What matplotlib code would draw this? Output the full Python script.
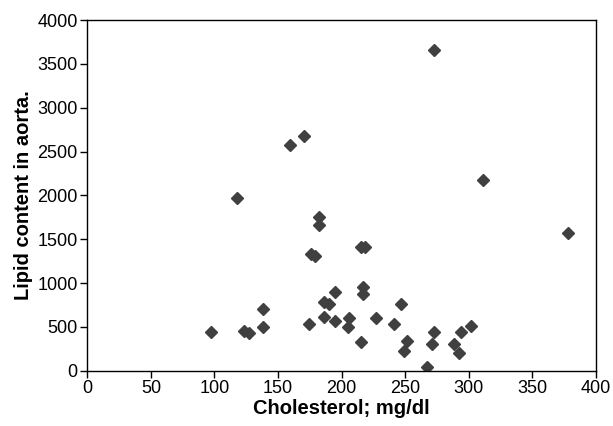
import matplotlib
matplotlib.use("Agg")
import matplotlib.pyplot as plt

# cholesterol (mg/dl) vs lipid content in aorta
cholesterol = [118, 159, 170, 273, 311, 97, 123, 127, 138, 138, 174, 176, 179,
               182, 182, 186, 186, 190, 195, 195, 378, 215, 218, 217, 217, 206,
               205, 227, 215, 241, 247, 251, 249, 267, 273, 271, 288, 292, 294,
               302]
lipid = [1975, 2574, 2677, 3658, 2175, 445, 453, 426, 700, 495, 533, 1331, 1308,
         1757, 1662, 616, 784, 761, 894, 570, 1567, 1414, 1407, 955, 875, 597,
         502, 597, 331, 533, 757, 342, 225, 46, 441, 305, 305, 205, 445, 513]

x_ticks = [0, 50, 100, 150, 200, 250, 300, 350, 400]
y_ticks = [0, 500, 1000, 1500, 2000, 2500, 3000, 3500, 4000]

plt.rcParams["font.family"] = ["Liberation Sans", "DejaVu Sans"]

fig = plt.figure(figsize=(6.13, 4.26), dpi=100)
ax = fig.add_axes([0.1424, 0.1298, 0.8299, 0.8232])

ax.plot(cholesterol, lipid, linestyle="none", marker="D", markersize=6.5,
        color="#404040", markeredgecolor="#404040")

ax.set_xlim(0, 400)
ax.set_ylim(0, 4000)
ax.set_xticks(x_ticks)
ax.set_yticks(y_ticks)
ax.tick_params(direction="out", length=5, width=1, labelsize=13, color="black",
               pad=2)
for s in ax.spines.values():
    s.set_linewidth(1)

ax.set_xlabel("Cholesterol; mg/dl", fontsize=14.5, fontweight="bold", labelpad=1)
ax.set_ylabel("Lipid content in aorta.", fontsize=14.5, fontweight="bold", labelpad=3)

fig.savefig("out.png", dpi=100)
